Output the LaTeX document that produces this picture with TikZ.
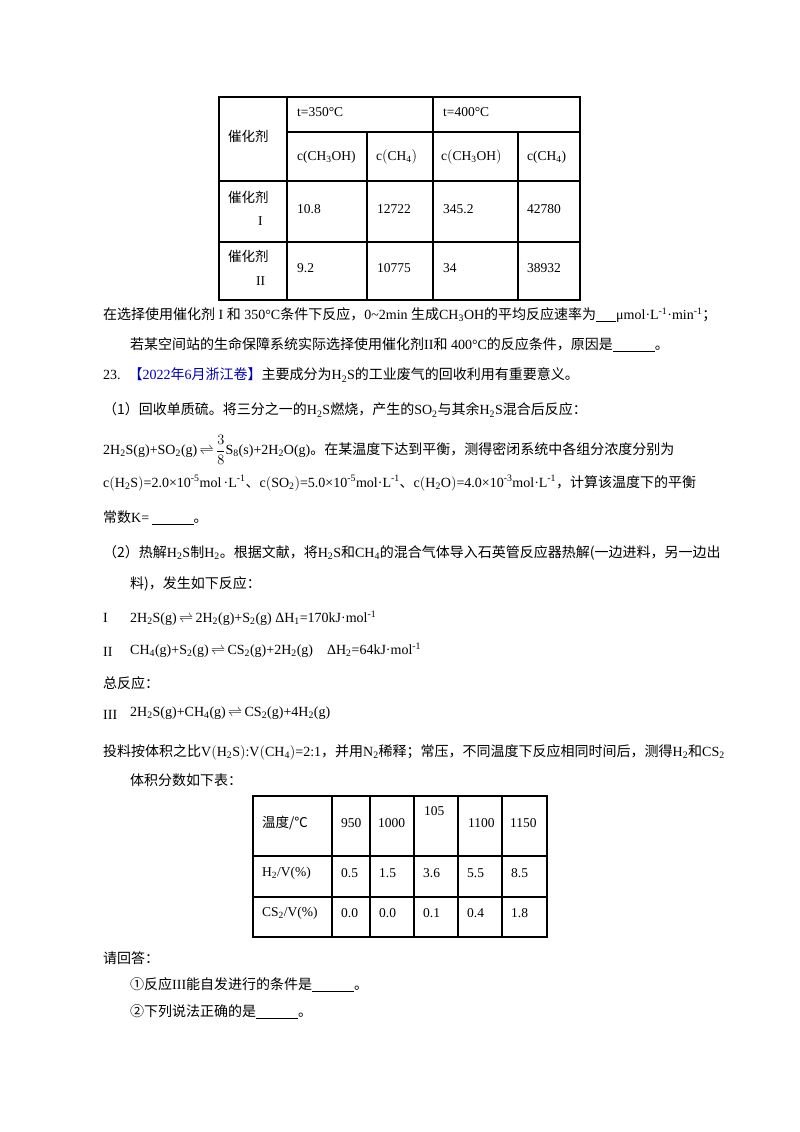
\documentclass[tikz,border=0pt]{standalone}
\usepackage{fontspec}
\setmainfont{Liberation Serif}
\newfontfamily\cjk{Noto Sans CJK SC}
\newcommand{\zh}[1]{{\cjk #1}}
\newcommand{\sbs}[1]{\textsubscript{#1}}
\newcommand{\sps}[1]{\textsuperscript{#1}}
\newcommand{\eqa}{\,$\rightleftharpoons$\,}
\newcommand{\blank}[1]{\underline{\hspace{#1}}}
\begin{document}
\begin{tikzpicture}[x=1pt,y=-1pt,
  t/.style={anchor=west,inner sep=0pt,font=\fontsize{14}{16}\selectfont},
  c/.style={anchor=west,inner sep=0pt,font=\fontsize{13.5}{15}\selectfont},
  grid/.style={line width=1.1pt}]
\useasboundingbox[fill=white] (0,0) rectangle (800,1132);
% Table 1
\draw[grid] (219,97) rectangle (580,300);
\draw[grid] (287,97) -- (287,300);
\draw[grid] (433,97) -- (433,300);
\draw[grid] (367,132) -- (367,300);
\draw[grid] (518,132) -- (518,300);
\draw[grid] (287,132) -- (580,132);
\draw[grid] (219,181) -- (580,181);
\draw[grid] (219,242) -- (580,242);
\node[c] (a1) at (228,136) {\zh{催化剂}};
\node[c] (a2) at (297,112) {t=350°C};
\node[c] (a3) at (443,112) {t=400°C};
\node[c] (a4) at (297,157) {c(CH\sbs{3}OH)};
\node[c] (a5) at (376,157) {c$\big($CH\sbs{4}$\big)$};
\node[c] (a6) at (441,157) {c$\big($CH\sbs{3}OH$\big)$};
\node[c] (a7) at (527,157) {c(CH\sbs{4})};
\node[c] (b1) at (228,197) {\zh{催化剂}};
\node[c] (b2) at (258,221) {I};
\node[c] (b3) at (297,209) {10.8};
\node[c] (b4) at (377,209) {12722};
\node[c] (b5) at (443,209) {345.2};
\node[c] (b6) at (527,209) {42780};
\node[c] (d1) at (228,256) {\zh{催化剂}};
\node[c] (d2) at (256,281) {II};
\node[c] (d3) at (297,268) {9.2};
\node[c] (d4) at (377,268) {10775};
\node[c] (d5) at (443,268) {34};
\node[c] (d6) at (527,268) {38932};
% Text
\node[t] (l1) at (103,315) {\zh{在选择使用催化剂} I \zh{和} 350°C\zh{条件下反应，}0\textasciitilde2min \zh{生成}CH\sbs{3}OH\zh{的平均反应速率为}\blank{20pt}μmol·L\sps{-1}·min\sps{-1}\zh{；}};
\node[t] (l2) at (130,345) {\zh{若某空间站的生命保障系统实际选择使用催化剂}II\zh{和} 400°C\zh{的反应条件，原因是}\blank{42pt}\zh{。}};
\node[t] (l3) at (103,375) {23.\hspace{8pt}\textcolor{blue!75!black}{\zh{【}2022\zh{年}6\zh{月浙江卷】}}\zh{主要成分为}H\sbs{2}S\zh{的工业废气的回收利用有重要意义。}};
\node[t] (l4) at (103,410) {\zh{（1）回收单质硫。将三分之一的}H\sbs{2}S\zh{燃烧，产生的}SO\sbs{2}\zh{与其余}H\sbs{2}S\zh{混合后反应：}};
\node[t] (l5) at (103,450) {2H\sbs{2}S(g)+SO\sbs{2}(g)\eqa$\displaystyle\frac{3}{8}$S\sbs{8}(s)+2H\sbs{2}O(g)\zh{。在某温度下达到平衡，测得密闭系统中各组分浓度分别为}};
\node[t] (l6) at (103,483) {c$\big($H\sbs{2}S$\big)$=2.0×10\sps{-5}mol\,·L\sps{-1}\zh{、}c$\big($SO\sbs{2}$\big)$=5.0×10\sps{-5}mol·L\sps{-1}\zh{、}c$\big($H\sbs{2}O$\big)$=4.0×10\sps{-3}mol·L\sps{-1}\zh{，计算该温度下的平衡}};
\node[t] (l7) at (103,518) {\zh{常数}K=\,\blank{42pt}\zh{。}};
\node[t] (l8) at (103,553) {\zh{（2）热解}H\sbs{2}S\zh{制}H\sbs{2}\zh{。根据文献，将}H\sbs{2}S\zh{和}CH\sbs{4}\zh{的混合气体导入石英管反应器热解(一边进料，另一边出}};
\node[t] (l9) at (130,584) {\zh{料)，发生如下反应：}};
\node[t] (r1n) at (103,618) {I};
\node[t] (r1) at (130,618) {2H\sbs{2}S(g)\,$\rightleftharpoons$\,2H\sbs{2}(g)+S\sbs{2}(g) ΔH\sbs{1}=170kJ·mol\sps{-1}};
\node[t] (r2n) at (103,652) {II};
\node[t] (r2) at (130,650) {CH\sbs{4}(g)+S\sbs{2}(g)\eqa CS\sbs{2}(g)+2H\sbs{2}(g)\hspace{14pt}ΔH\sbs{2}=64kJ·mol\sps{-1}};
\node[t] (l10) at (103,683) {\zh{总反应：}};
\node[t] (r3n) at (103,715) {III};
\node[t] (r3) at (130,713) {2H\sbs{2}S(g)+CH\sbs{4}(g)\eqa CS\sbs{2}(g)+4H\sbs{2}(g)};
\node[t] (l11) at (103,752) {\zh{投料按体积之比}V$\big($H\sbs{2}S$\big)$:V$\big($CH\sbs{4}$\big)$=2:1\zh{，并用}N\sbs{2}\zh{稀释；常压，不同温度下反应相同时间后，测得}H\sbs{2}\zh{和}CS\sbs{2}};
\node[t] (l12) at (130,780) {\zh{体积分数如下表：}};
% Table 2
\draw[grid] (253,796) rectangle (547,937);
\foreach \xx in {332,370,414,458,502} \draw[grid] (\xx,796) -- (\xx,937);
\draw[grid] (253,856) -- (547,856);
\draw[grid] (253,897) -- (547,897);
\node[c] (e1) at (262,823) {\zh{温度/℃}};
\node[c] (e2) at (341,823) {950};
\node[c] (e3) at (378,823) {1000};
\node[c] (e4) at (424,811) {105};
\node[c] (e5) at (468,823) {1100};
\node[c] (e6) at (510,823) {1150};
\node[c] (f1) at (262,873) {H\sbs{2}/V(\%)};
\node[c] (f2) at (341,873) {0.5};
\node[c] (f3) at (379,873) {1.5};
\node[c] (f4) at (423,873) {3.6};
\node[c] (f5) at (467,873) {5.5};
\node[c] (f6) at (511,873) {8.5};
\node[c] (g1) at (262,913) {CS\sbs{2}/V(\%)};
\node[c] (g2) at (341,913) {0.0};
\node[c] (g3) at (379,913) {0.0};
\node[c] (g4) at (423,913) {0.1};
\node[c] (g5) at (467,913) {0.4};
\node[c] (g6) at (511,913) {1.8};
\node[t] (l13) at (103,958) {\zh{请回答：}};
\node[t] (l14) at (130,985) {\zh{①反应}III\zh{能自发进行的条件是}\blank{42pt}\zh{。}};
\node[t] (l15) at (130,1012) {\zh{②下列说法正确的是}\blank{42pt}\zh{。}};
\end{tikzpicture}
\end{document}
